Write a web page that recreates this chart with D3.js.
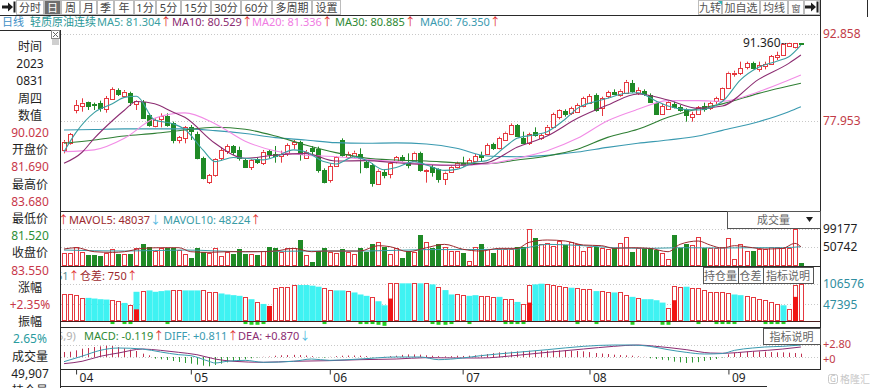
<!DOCTYPE html>
<meta charset="utf-8">
<head>
<style>
body { margin: 0; background: #fff; }
svg { display: block; font-family: "Noto Sans", "Noto Sans CJK SC", sans-serif; }
.grid line { stroke: #c8c8c8; stroke-dasharray: 1,2; }
.frame { stroke: #2a2a2a; stroke-width: 1; }
.btn rect { fill: #fff; stroke: #bcbcbc; }
.btn text { font-size: 11px; fill: #555; text-anchor: middle; }
</style>
<script src="https://d3js.org/d3.v7.min.js"></script>
<title>轻质原油连续 日线</title>
</head>
<body>
<svg id="chart" width="870" height="388"></svg>
<script>

// month labels on the time axis and the candle index where each month starts
var monthLabels = ["04", "05", "06", "07", "08", "09"];
var monthStart  = [2, 21, 44, 66, 87, 110];

// daily candles, 2023-03-30 .. 2023-09-18
var opens = [72.99,74.24,79.84,80.52,81.15,80.87,81.10,79.95,81.67,83.26,
  82.29,82.69,80.87,81.27,78.98,77.10,78.24,78.81,77.55,74.70,
  74.98,76.98,75.73,71.67,67.39,68.70,71.56,72.87,73.67,72.99,
  71.27,70.13,71.39,70.81,72.87,72.24,71.96,72.41,74.13,74.41,
  71.73,73.27,73.10,69.56,67.84,70.24,74.70,71.84,71.96,72.30,
  70.99,70.41,67.16,69.27,68.87,70.99,71.84,70.99,71.16,72.41,
  69.44,70.13,69.67,68.13,69.27,70.01,70.81,70.59,71.16,72.13,
  72.30,74.01,73.27,74.81,75.73,77.27,74.98,74.13,76.13,74.98,
  75.73,76.98,78.70,79.73,79.27,79.55,80.52,80.98,82.41,80.12,
  82.12,82.98,82.41,82.80,84.41,82.80,83.09,82.41,81.09,79.15,
  80.12,80.87,80.41,79.84,78.58,79.15,80.52,80.12,81.27,81.69,
  83.72,86.00,86.12,87.15,87.83,86.80,87.40,87.72,88.86,89.26,
  90.80,90.57,91.26];
var highs = [74.70,75.90,81.55,81.84,81.27,81.10,81.44,82.24,83.72,83.55,
  83.26,82.98,81.55,81.55,79.27,78.41,79.27,79.27,77.84,75.38,
  77.10,77.27,76.13,71.84,68.87,71.56,73.44,73.96,73.84,73.56,
  71.56,71.39,71.73,72.99,72.99,73.67,72.87,74.13,74.70,74.58,
  72.99,73.67,73.56,69.84,70.70,71.96,74.98,72.70,72.87,73.27,
  71.27,70.70,69.67,69.67,70.99,71.96,72.13,72.41,72.70,72.70,
  69.67,70.41,69.84,69.27,70.41,70.99,71.84,71.56,72.30,72.70,
  74.13,74.24,75.27,76.13,77.55,77.44,76.13,75.95,76.87,75.84,
  77.27,79.38,79.95,79.95,80.41,80.98,82.12,82.58,82.69,82.12,
  83.15,83.38,83.38,84.98,84.98,83.72,83.38,82.69,81.27,80.87,
  81.55,81.27,80.69,80.12,79.55,80.52,81.09,81.27,82.12,83.68,
  86.40,86.57,88.12,88.12,88.12,88.12,88.12,89.26,89.83,91.30,
  91.36,91.30,91.30];
var lows = [72.41,73.90,79.27,79.55,79.84,79.84,79.55,79.38,81.55,82.24,
  82.12,80.52,79.84,78.58,76.98,76.87,76.87,76.98,74.13,74.13,
  74.13,74.70,71.39,67.96,67.16,68.42,71.27,72.30,72.13,71.16,
  70.01,69.56,70.59,70.41,71.56,70.81,70.81,71.96,73.10,71.16,
  71.56,71.96,69.10,67.27,67.39,70.13,71.84,71.56,71.67,68.99,
  69.84,66.70,66.99,68.13,68.13,70.70,70.99,69.84,70.99,69.27,
  67.39,68.42,67.39,66.99,69.10,69.84,70.13,70.41,70.99,70.99,
  72.13,72.99,73.10,74.58,75.55,75.27,74.01,73.84,75.27,74.70,
  75.55,76.87,78.24,78.70,78.98,79.38,80.30,80.87,79.55,78.81,
  81.84,82.41,82.12,82.69,82.80,82.41,82.24,81.09,79.15,78.98,
  79.95,80.12,79.55,77.84,77.84,78.98,79.55,79.84,80.87,81.52,
  83.55,85.55,85.83,86.80,86.80,86.40,86.80,87.55,88.40,89.09,
  90.69,90.40,91.10];
var closes = [74.41,75.73,80.69,81.09,80.52,80.64,80.30,81.84,83.38,82.58,
  82.98,81.09,81.44,78.58,77.27,78.12,78.81,77.27,74.58,75.15,
  76.87,76.30,71.56,68.25,68.64,71.39,72.99,73.67,72.70,71.56,
  70.13,71.27,70.81,72.70,72.30,71.96,72.30,73.84,74.41,72.30,
  72.70,72.70,69.56,67.56,70.24,71.84,72.13,72.30,72.53,71.56,
  70.13,67.27,69.44,68.70,70.81,71.73,71.27,70.41,72.53,69.56,
  69.56,69.27,67.96,69.10,70.13,70.70,70.41,71.27,71.96,71.84,
  73.84,73.27,74.98,75.95,77.27,75.38,74.13,75.73,75.55,75.55,
  76.98,79.15,79.84,79.15,80.12,80.69,81.84,82.24,79.84,81.84,
  82.86,82.69,83.15,84.69,82.98,83.26,82.58,81.27,79.27,80.52,
  81.27,80.30,79.84,78.98,79.15,80.30,79.95,80.98,81.84,83.55,
  86.23,86.23,86.97,87.83,86.97,87.55,87.66,89.09,89.26,91.14,
  91.30,91.26,91.20];

// moving averages: [candle index, value]
var ma5 = [[0,72.70],[2,76.0],[5,79.38],[8,80.9],[10,82.0],[12,82.2],[15,78.12],[18,77.5],[20,76.53],
  [23,73.0],[25,70.99],[28,71.7],[30,71.56],[33,71.3],[35,71.84],[38,73.0],[40,72.70],[43,71.0],
  [45,70.59],[48,71.8],[50,71.27],[53,69.6],[55,70.0],[58,71.0],[60,70.42],[63,69.5],[65,69.67],
  [68,70.9],[70,71.16],[73,73.5],[75,74.98],[78,75.6],[80,76.13],[83,78.3],[85,80.12],[88,81.3],
  [90,81.84],[93,82.7],[95,82.80],[98,81.4],[100,80.52],[103,79.9],[105,79.84],[109,81.30],
  [112,85.0],[115,87.15],[118,88.2],[120,88.97],[122,90.97]];
var ma10 = [[0,70.70],[3,72.6],[5,74.98],[8,78.0],[10,79.8],[12,81.3],[15,80.9],[18,79.5],[20,78.58],
  [25,74.13],[30,71.56],[35,72.13],[40,72.41],[45,71.10],[50,71.16],[55,70.81],[60,70.47],[65,70.36],
  [70,70.81],[75,73.44],[80,75.38],[85,78.41],[90,80.69],[95,82.58],[100,81.55],[105,80.12],
  [109,80.53],[115,85.09],[120,87.83],[122,89.26]];
var ma20 = [[0,72.70],[5,73.0],[10,74.98],[15,78.41],[20,79.35],[25,77.5],[30,74.5],[35,72.8],[40,72.1],
  [45,71.84],[50,71.38],[55,70.99],[60,70.59],[65,70.36],[70,70.59],[75,71.56],[80,72.87],[85,74.98],
  [90,78.0],[95,79.95],[100,81.44],[105,81.44],[109,81.34],[115,82.98],[120,84.98],[122,85.83]];
var ma30 = [[0,74.13],[5,74.70],[10,75.38],[15,75.84],[20,76.41],[25,76.87],[30,76.53],[35,75.38],
  [40,73.84],[45,72.53],[50,71.60],[55,71.27],[60,71.10],[65,70.80],[70,70.64],[75,71.27],[80,71.96],
  [85,73.10],[90,75.15],[95,76.53],[100,78.58],[105,80.06],[109,80.89],[115,82.69],[120,83.95],[122,84.41]];
var ma60 = [[0,76.41],[5,76.50],[10,76.60],[15,76.60],[20,76.60],[25,76.30],[30,75.80],[35,75.10],
  [40,74.70],[45,74.24],[50,74.13],[55,74.20],[60,74.00],[65,73.27],[70,71.96],[75,71.84],[80,72.07],
  [85,72.64],[90,73.44],[95,74.13],[100,74.70],[105,75.38],[109,76.35],[115,77.84],[120,79.55],[122,80.41]];

// volume (lots)
var volumes = [33820,33820,51760,38300,29340,29340,27550,33820,45480,31130,
  31130,31130,49060,58040,51760,40100,47280,49060,49060,42790,
  31130,22170,47280,38300,33820,49060,27550,38300,31130,45480,
  31130,31130,29340,40100,51760,47280,38300,49060,49060,69700,
  29340,9610,40100,49060,38300,33820,45480,38300,31130,49060,
  38300,58040,65210,51760,31130,49060,22170,40100,38300,83150,
  63420,47280,58040,51760,40100,40100,33820,13200,51760,58040,
  45480,33820,45480,45480,45480,51760,51760,98500,74190,58040,
  60730,54450,67010,56240,65210,58040,40100,51760,51760,49060,
  45480,49060,60730,78670,38300,47280,49060,49060,42790,33820,
  18580,83150,49060,58040,56240,77770,47280,47280,49060,49907,
  74190,18580,58040,40100,40100,45480,45480,51760,51760,47280,
  47280,99177,6900];
var mavol5 = [[0,45480],[2,49060],[5,38300],[8,36510],[10,38300],[13,47280],[16,49060],[19,49060],
  [21,38300],[24,36510],[27,38300],[30,38300],[32,38300],[35,40100],[38,47280],[41,38300],[43,40100],
  [46,40100],[49,40100],[52,54450],[54,51760],[57,38300],[60,49060],[63,58040],[66,45000],[69,40100],
  [72,47280],[75,47280],[77,63420],[80,69700],[83,67000],[86,56240],[89,54450],[91,47280],[94,49060],
  [97,47280],[100,38300],[102,58040],[105,67000],[107,56000],[109,48037],[111,54450],[114,49060],
  [116,45480],[119,47280],[121,60720],[122,51760]];
var mavol10 = [[0,42790],[10,40100],[20,42790],[30,38300],[40,40100],[50,40100],[60,44000],[66,44000],
  [75,45480],[80,58040],[86,54450],[91,49060],[97,47280],[102,49060],[109,48224],[114,49060],
  [119,49060],[122,51760]];

// open interest, its colour (u = added, d = reduced) and the filled part of some bars
var openInt = [75360,75360,73440,65760,65760,63840,61920,60960,59040,56160,
  51360,46560,83040,84960,86880,83040,84960,86880,86880,86880,
  86880,86880,86880,86880,83040,81120,78240,75360,73440,71520,
  68640,61920,54240,48480,42720,92640,97440,97440,102240,102240,
  102240,100320,97440,94560,87840,86880,86880,84960,81120,75360,
  71520,68640,56160,44640,107040,107040,107040,107040,107040,107040,
  107040,104160,97440,87840,75360,75360,73440,71520,73440,71520,
  71520,68640,68640,63840,61920,54240,49440,102240,104160,106000,
  106000,102240,100320,97440,94560,92640,90720,90720,84960,84960,
  83040,81120,81120,73440,68640,65760,61920,61920,59040,52320,
  36960,100320,97440,97440,94560,92640,87840,81120,81120,81120,
  78240,75360,73440,71520,68640,63840,59040,54240,49440,44640,
  33120,102240,104160];
var oiSide = "uuuudddduudududd" +
  "dduuddduuuddddud" +
  "uduuuuudddduudd" +
  "udddudduuddudududd" +
  "uudduuuduuduudd" +
  "uuuuduuuduuduudud" +
  "ddduuuduuuuuuudduu" +
  "uuuud";
var oiSolid = [[12,33120],[34,42720],[54,63840],[77,52320],[101,59040],[121,68640]];
var oiDiffDown = [[8,-3000],[10,-3000],[11,-3000],[17,-3000],[30,-3000],[31,-5000],[32,-5000],[33,-3000],
  [43,-3000],[49,-3000],[50,-3000],[51,-3000],[52,-5000],[53,-8000],[61,-3000],[62,-5000],[63,-5000],
  [64,-3000],[67,-3000],[73,-3000],[74,-3000],[75,-3000],[76,-3000],[85,-3000],[88,-3000],[94,-5000],
  [99,-5000],[100,-5000],[105,-3000],[108,-3000],[109,-3000],[110,-3000],[111,-3000],[116,-3000],
  [117,-3000],[118,-3000],[119,-3000]];

// MACD(12,26,9)
var macdBars = [1.17,1.24,1.55,1.94,2.10,2.33,2.49,2.64,2.56,2.33,
  2.02,1.71,1.40,0.78,0.39,-0.39,-0.54,-0.70,-0.93,-1.17,
  -1.40,-1.55,-1.79,-2.02,-2.18,-1.86,-1.55,-1.24,-1.00,-0.78,
  -0.54,-0.31,-0.10,0.05,0.10,0.30,0.40,0.45,0.50,0.45,
  0.35,0.20,-0.10,-0.15,0.05,0.20,0.30,0.35,0.35,0.30,
  0.20,-0.10,-0.05,0.05,0.20,0.30,0.50,0.60,0.60,0.55,
  0.40,0.30,0.20,0.15,0.20,0.30,0.25,0.30,0.40,0.54,
  0.70,0.90,1.09,1.20,1.25,1.32,1.40,1.48,1.48,1.48,
  1.48,1.50,1.55,1.55,1.45,1.40,1.32,1.15,0.93,0.80,
  0.70,0.54,0.45,0.38,0.31,0.15,0.05,-0.30,-0.47,-0.65,
  -0.78,-1.09,-1.25,-1.40,-1.30,-1.20,-0.93,-0.70,-0.47,-0.12,
  0.62,0.93,1.10,1.24,1.32,1.30,1.24,1.15,1.09,1.09,
  1.00,0.93,0.78];
var diffPts = [[0,-1.09],[3,0.2],[6,1.55],[9,2.1],[13,1.86],[16,1.17],[19,0.54],[21,0.31],[24,-1.0],
  [25,-1.4],[27,-1.0],[30,-0.78],[33,-1.24],[38,-1.0],[41,-0.47],[44,-0.78],[49,-0.47],[55,0],[59,0],
  [62,-0.62],[66,-0.23],[69,0.31],[75,1.09],[80,1.71],[86,2.49],[91,2.8],[94,2.8],[97,2.49],[100,1.71],
  [103,1.09],[106,0.7],[109,0.811],[111,1.55],[114,2.1],[116,2.33],[119,2.49],[122,2.8]];
var deaPts = [[0,-1.55],[3,-1.0],[6,0.16],[9,0.93],[13,1.86],[16,1.55],[19,1.09],[22,0.54],[25,-0.47],
  [28,-1.0],[33,-1.24],[38,-1.0],[44,-0.85],[49,-0.62],[55,-0.47],[60,-0.16],[66,-0.23],[69,-0.23],
  [75,0.39],[80,1.09],[86,1.86],[91,2.49],[95,2.8],[98,2.49],[103,1.71],[107,0.93],[109,0.87],
  [114,1.32],[119,1.86],[122,2.33]];

// crosshair read-out on the left
var infoRows = [["时间","k"],["2023","k"],["0831","k"],["周四","k"],["数值","k"],["90.020","r"],
  ["开盘价","k"],["81.690","r"],["最高价","k"],["83.680","r"],["最低价","k"],["81.520","g"],
  ["收盘价","k"],["83.550","r"],["涨幅","k"],["+2.35%","r"],["振幅","k"],["2.65%","t"],
  ["成交量","k"],["49,907","k"],["持仓量","k"]];

var tabs = ["分时","日","周","月","季","年","1分","5分","15分","30分","60分","多周期","设置"];
var tabWidths = [28,17,19,17,17,20,22,25,30,30,31,40,29];

var RED = "#e5383f", GREEN = "#1f8a26", CYAN = "#3ff2f2";
var FONT = '"Noto Sans", "Noto Sans CJK SC", sans-serif';
var roleColor = {k: "#1e1e1e", r: "#c8384a", g: "#2f8f37", t: "#2b9c9f"};

var svg = d3.select("#chart");
svg.append("rect").attr("width", 870).attr("height", 388).attr("fill", "#fff");
var defs = svg.append("defs");
defs.append("clipPath").attr("id", "plot")
  .append("rect").attr("x", 61).attr("y", 16).attr("width", 759).attr("height", 354);
defs.append("clipPath").attr("id", "hdr")
  .append("rect").attr("x", 61).attr("y", 16).attr("width", 660).attr("height", 354);

// scales
var x = d3.scaleLinear().domain([0, 122]).range([64, 800.9]);
function cx(i) { return Math.round(x(i)) + 0.5; }
var yPrice = d3.scaleLinear().domain([77.953, 92.858]).range([121, 34]);
var yVol = d3.scaleLinear().domain([0, 99177]).range([266, 229]);
var yOI = d3.scaleLinear().domain([0, 106576]).range([321, 283.5]);
var yMacd = d3.scaleLinear().domain([0, 2.8]).range([357, 345]);

// dotted grid lines + right labels
function panelScale(scale, values, fmt, color, size) {
  svg.append("g").attr("class", "grid").selectAll("line").data(values).enter().append("line")
    .attr("x1", 61).attr("x2", 820)
    .attr("y1", d => Math.round(scale(d)) + 0.5).attr("y2", d => Math.round(scale(d)) + 0.5);
  var g = svg.append("g").attr("transform", "translate(820,0)")
    .call(d3.axisRight(scale).tickValues(values).tickFormat(fmt).tickSize(0).tickPadding(3));
  g.select(".domain").remove();
  g.attr("font-size", size || 12).attr("font-family", FONT);
  g.selectAll("text").attr("fill", color);
  return g;
}
panelScale(yPrice, [77.953, 92.858], d3.format(".3f"), "#c23c48");
panelScale(yVol, [50742, 99177], d3.format("d"), "#1e1e1e");
panelScale(yOI, [47395, 106576], d3.format("d"), "#2f8ea0");
panelScale(yMacd, [0, 2.8], d => d === 0 ? "+0" : "+" + d.toFixed(2), "#c23c48", 11)
  .selectAll("text").attr("y", d => d === 0 ? 1.5 : -1.5);

var plot = svg.append("g").attr("clip-path", "url(#plot)");

// candles
var candles = d3.range(opens.length).map(i => ({
  i: i, o: opens[i], h: highs[i], l: lows[i], c: closes[i], up: closes[i] >= opens[i]
}));
var gc = plot.append("g").selectAll("g").data(candles).enter().append("g");
gc.append("line")
  .attr("x1", d => cx(d.i)).attr("x2", d => cx(d.i))
  .attr("y1", d => yPrice(d.h))
  .attr("y2", d => d.up ? yPrice(Math.max(d.o, d.c)) : yPrice(d.l))
  .attr("stroke", d => d.up ? RED : GREEN);
gc.filter(d => d.up).append("line")
  .attr("x1", d => cx(d.i)).attr("x2", d => cx(d.i))
  .attr("y1", d => yPrice(d.o)).attr("y2", d => yPrice(d.l))
  .attr("stroke", RED);
gc.append("rect")
  .attr("x", d => cx(d.i) - 2)
  .attr("y", d => Math.round(yPrice(Math.max(d.o, d.c))) + 0.5)
  .attr("width", 4)
  .attr("height", d => Math.max(1, Math.round(yPrice(Math.min(d.o, d.c)) - yPrice(Math.max(d.o, d.c)))))
  .attr("fill", d => d.up ? "#fff" : GREEN)
  .attr("stroke", d => d.up ? RED : GREEN);

// moving average lines
var maLine = d3.line().curve(d3.curveMonotoneX).x(d => x(d[0])).y(d => yPrice(d[1]));
[[ma60, "#3a9ab0"], [ma30, "#2f7f34"], [ma20, "#f28ce6"], [ma10, "#8c2d72"], [ma5, "#3a9fa2"]]
  .forEach(s => {
    plot.append("path").datum(s[0]).attr("d", maLine)
      .attr("fill", "none").attr("stroke", s[1]).attr("stroke-width", 1.1);
  });

// highest price marker
var iMax = d3.maxIndex(highs);
plot.append("line")
  .attr("x1", cx(iMax) - 8).attr("x2", cx(iMax) - 3)
  .attr("y1", Math.round(yPrice(highs[iMax])) + 0.5).attr("y2", Math.round(yPrice(highs[iMax])) + 0.5)
  .attr("stroke", "#333").attr("stroke-dasharray", "2,1");
plot.append("text")
  .attr("x", cx(iMax) - 9).attr("y", yPrice(highs[iMax]) + 4)
  .attr("text-anchor", "end").attr("font-size", 12).attr("fill", "#1e1e1e")
  .text(d3.format(".3f")(highs[iMax]));

// volume bars
plot.append("g").selectAll("rect").data(volumes).enter().append("rect")
  .attr("x", (d, i) => cx(i) - 2)
  .attr("y", d => Math.round(yVol(d)) + 0.5)
  .attr("width", 4)
  .attr("height", d => Math.max(1, 266 - Math.round(yVol(d)) - 1))
  .attr("fill", (d, i) => candles[i].up ? "#fff" : GREEN)
  .attr("stroke", (d, i) => candles[i].up ? RED : GREEN);
var volLine = d3.line().curve(d3.curveMonotoneX).x(d => x(d[0])).y(d => yVol(d[1]));
plot.append("path").datum(mavol10).attr("d", volLine).attr("fill", "none").attr("stroke", "#3a9ca6");
plot.append("path").datum(mavol5).attr("d", volLine).attr("fill", "none").attr("stroke", "#9c2a2e");

// open interest bars
var gOI = plot.append("g");
gOI.selectAll("rect.dn").data(openInt.map((v, i) => [i, v]).filter(d => oiSide[d[0]] === "d"))
  .enter().append("rect")
  .attr("x", d => cx(d[0]) - 3).attr("width", 6)
  .attr("y", d => yOI(d[1])).attr("height", d => 321 - yOI(d[1]))
  .attr("fill", CYAN);
gOI.selectAll("rect.up").data(openInt.map((v, i) => [i, v]).filter(d => oiSide[d[0]] !== "d"))
  .enter().append("rect")
  .attr("x", d => cx(d[0]) - 2).attr("width", 4)
  .attr("y", d => Math.round(yOI(d[1])) + 0.5).attr("height", d => 320 - Math.round(yOI(d[1])))
  .attr("fill", "#fff").attr("stroke", RED);
gOI.selectAll("rect.solid").data(oiSolid).enter().append("rect")
  .attr("x", d => cx(d[0]) - 2.5).attr("width", 5)
  .attr("y", d => yOI(d[1])).attr("height", d => 321 - yOI(d[1]))
  .attr("fill", "#f01414");
gOI.append("line").attr("x1", 61).attr("x2", 820).attr("y1", 321.5).attr("y2", 321.5)
  .attr("stroke", "#4a1f1f");
gOI.selectAll("rect.diff").data(oiDiffDown).enter().append("rect")
  .attr("x", d => cx(d[0]) - 2).attr("width", 4)
  .attr("y", 322).attr("height", d => yOI(d[1]) - yOI(0) + 1)
  .attr("fill", "#22d022");

// MACD
plot.append("g").selectAll("line").data(macdBars).enter().append("line")
  .attr("x1", (d, i) => cx(i)).attr("x2", (d, i) => cx(i))
  .attr("y1", yMacd(0)).attr("y2", d => yMacd(d))
  .attr("stroke", d => d >= 0 ? "#c0304f" : "#2e9a35");
var macdLine = d3.line().curve(d3.curveMonotoneX).x(d => x(d[0])).y(d => yMacd(d[1]));
plot.append("path").datum(deaPts).attr("d", macdLine).attr("fill", "none").attr("stroke", "#8c2d72");
plot.append("path").datum(diffPts).attr("d", macdLine).attr("fill", "none").attr("stroke", "#3a9ab0");

// time axis
var gx = svg.append("g").attr("transform", "translate(0,369.5)")
  .call(d3.axisBottom(x).tickValues(monthStart)
    .tickFormat(d => monthLabels[monthStart.indexOf(d)]).tickSize(5));
gx.select(".domain").remove();
gx.attr("font-size", 12).attr("font-family", FONT);
gx.selectAll(".tick line").attr("stroke", "#333");
gx.selectAll(".tick text").attr("x", 3).attr("y", 4).attr("text-anchor", "start").attr("fill", "#1e1e1e");

// frames
function hline(y, x1, x2, color) {
  svg.append("line").attr("class", "frame").attr("x1", x1).attr("x2", x2)
    .attr("y1", y).attr("y2", y).attr("stroke", color || "#2a2a2a");
}
function vline(xx, y1, y2, color) {
  svg.append("line").attr("class", "frame").attr("x1", xx).attr("x2", xx)
    .attr("y1", y1).attr("y2", y2).attr("stroke", color || "#2a2a2a");
}
hline(15.5, 0, 820, "#9a9a9a");
hline(211.5, 60, 820);
hline(266.5, 60, 820);
hline(327.5, 60, 820);
hline(369.5, 60, 820);
hline(386.5, 60, 767, "#a0a0a0");
hline(30.5, 0, 60, "#6a6a6a");
vline(60.5, 30, 388);
vline(820.5, 0, 370);
vline(867.5, 0, 17, "#6a6a6a");

// header texts (segments with their own start x)
var hdr = svg.append("g").attr("clip-path", "url(#hdr)");
function header(target, y, parts) {
  parts.forEach(p => {
    var t = target.append("text").attr("x", p[0]).attr("y", y).attr("font-size", 11);
    t.append("tspan").attr("fill", p[2]).text(p[1]);
    if (p[3]) t.append("tspan").attr("fill", p[3] === "↓" ? "#4fb8e0" : "#e03030").text(p[3]);
  });
}
header(svg, 26, [[2, "日线", "#3d8fc6"], [30, "轻质原油连续", "#2a9898"],
  [97, "MA5: 81.304", "#3a9fa2", "↑"], [172, "MA10: 80.529", "#8c2d72", "↑"],
  [252, "MA20: 81.336", "#f07ce2", "↑"], [335, "MA30: 80.885", "#2f8a34", "↑"],
  [420, "MA60: 76.350", "#3a9ab0", "↑"]]);
header(hdr, 224, [[58, "", "#e03030", "↑"], [69, "MAVOL5: 48037", "#9c2a2e", "↓"],
  [163, "MAVOL10: 48224", "#3a9ca6", "↑"]]);
header(hdr, 280, [[56, "61", "#5a8f96", "↑"], [80, "仓差: 750", "#9c2a2e", "↑"]]);
header(hdr, 340, [[57, "5,9)", "#b0b0b0"], [84, "MACD: -0.119", "#2f8a34", "↑"],
  [164, "DIFF: +0.811", "#3a9ab0", "↑"], [238, "DEA: +0.870", "#8c2d72", "↓"]]);

// toolbar
function arrowIcon(x0) {
  svg.append("path").attr("d", "M" + x0 + ",5.5h6v-3l5,4.5l-5,4.5v-3h-6z").attr("fill", "#1e1e1e");
  svg.append("rect").attr("x", x0 + 11.5).attr("y", 1.5).attr("width", 2).attr("height", 11).attr("fill", "#1e1e1e");
}
arrowIcon(2);
var tabX = d3.cumsum([16].concat(tabWidths));
var tb = svg.append("g").selectAll("g").data(tabs).enter().append("g").attr("class", "btn");
tb.append("rect").attr("x", (d, i) => tabX[i] + 0.5).attr("y", 0.5)
  .attr("width", (d, i) => tabWidths[i] - 1).attr("height", 14)
  .style("fill", d => d === "日" ? "#6e6e6e" : "#fff");
tb.append("text").attr("x", (d, i) => tabX[i] + tabWidths[i] / 2).attr("y", 11.5)
  .style("fill", d => d === "日" ? "#fff" : "#444").text(d => d);

var rightTabs = ["九转", "加自选", "均线", "窗"];
var rightWidths = [24, 38, 28, 16];
var rightX = d3.cumsum([698].concat(rightWidths));
var rb = svg.append("g").selectAll("g").data(rightTabs).enter().append("g").attr("class", "btn");
rb.append("rect").attr("x", (d, i) => rightX[i] + 0.5).attr("y", 0.5)
  .attr("width", (d, i) => rightWidths[i] - 1).attr("height", 14);
rb.append("text").attr("x", (d, i) => rightX[i] + rightWidths[i] / 2).attr("y", 11.5)
  .style("font-size", d => d === "窗" ? "9px" : "11px").text(d => d);
svg.append("path").attr("d", "M718,1h4v4z").attr("fill", "#2fb4b4");
svg.append("rect").attr("x", 804.5).attr("y", 0.5).attr("width", 15).attr("height", 14)
  .attr("fill", "#fff").attr("stroke", "#bcbcbc");
arrowIcon(805);

// panel buttons
function boxButton(x0, y0, w, h, label) {
  svg.append("rect").attr("x", x0 + 0.5).attr("y", y0 + 0.5).attr("width", w).attr("height", h)
    .attr("fill", "#fff").attr("stroke", "#555");
  svg.append("text").attr("x", x0 + w / 2).attr("y", y0 + h / 2 + 4.5).attr("text-anchor", "middle")
    .attr("font-size", 11).attr("fill", "#666").text(label);
}
boxButton(727, 211, 93, 17, "成交量");
svg.append("path").attr("d", "M806,217h7l-3.5,5z").attr("fill", "#1e1e1e");
boxButton(703, 267, 35, 16, "持仓量");
boxButton(738, 267, 25, 16, "仓差");
boxButton(763, 267, 50, 16, "指标说明");
boxButton(763, 328, 57, 16, "指标说明");

// left read-out panel (last row is cut by the window edge, as in the terminal)
svg.append("g").selectAll("text").data(infoRows).enter().append("text")
  .attr("x", 30).attr("y", (d, i) => 51 + i * 17.2)
  .attr("text-anchor", "middle").attr("font-size", 12)
  .attr("fill", d => roleColor[d[1]]).text(d => d[0]);
svg.append("rect").attr("x", 51.5).attr("y", 30.5).attr("width", 8).attr("height", 8)
  .attr("fill", "#fff").attr("stroke", "#888");
svg.append("path").attr("d", "M53,32l5,5M58,32l-5,5").attr("stroke", "#666");
svg.append("rect").attr("x", 52).attr("y", 39).attr("width", 7).attr("height", 6).attr("fill", "#cfcfcf");

// watermark
svg.append("rect").attr("x", 828.5).attr("y", 374.5).attr("width", 9).attr("height", 9).attr("rx", 2)
  .attr("fill", "none").attr("stroke", "#c8c8c8");
svg.append("text").attr("x", 833).attr("y", 382).attr("text-anchor", "middle")
  .attr("font-size", 8).attr("fill", "#c0c0c0").text("G");
svg.append("text").attr("x", 840).attr("y", 383).attr("font-size", 10).attr("fill", "#c8c8c8").text("格隆汇");

</script>
</body>
